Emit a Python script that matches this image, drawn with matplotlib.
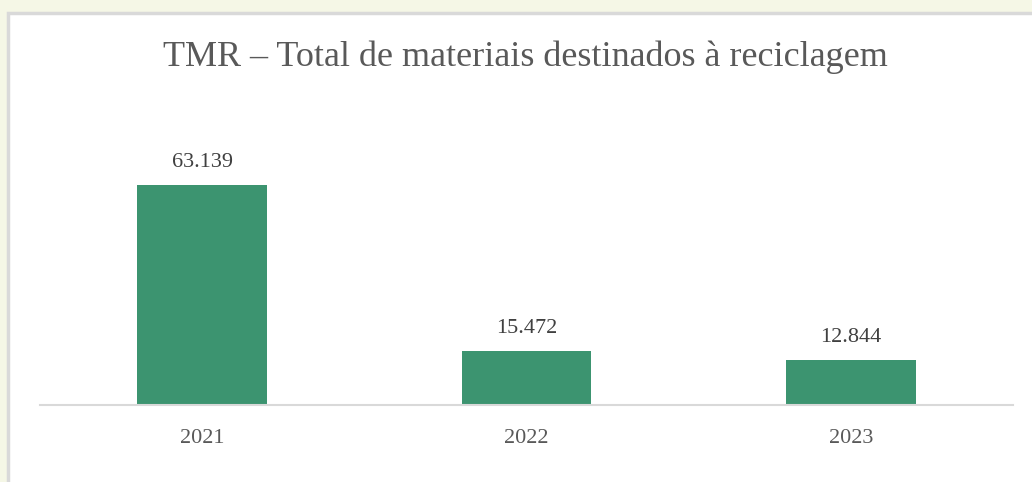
import matplotlib.pyplot as plt
from matplotlib.patches import Rectangle

anos = ["2021", "2022", "2023"]
valores = [63139, 15472, 12844]
rotulos = ["63.139", "15.472", "12.844"]

W, H = 1032, 482
fig = plt.figure(figsize=(W / 100, H / 100), dpi=100)
fig.patch.set_facecolor("#F5F7E6")

# painel branco com borda cinza
fig.patches.append(Rectangle((8 / W, -0.1), 1.1, (H - 13) / H + 0.1,
                             transform=fig.transFigure, facecolor="white",
                             edgecolor="#D9D9D9", linewidth=2.5, zorder=-1))

ax = fig.add_axes([40 / W, (H - 405) / H, 973 / W, 280 / H])
ax.set_zorder(1)
ax.set_facecolor("none")
x = list(range(len(anos)))
ax.bar(x, valores, width=0.4, color="#3C9470", zorder=2)
ax.set_xlim(-0.5, 2.5)
ax.set_ylim(0, 63139 * 280 / 220)

for xi, v, r in zip(x, valores, rotulos):
    ax.text(xi, v + 63139 * 18 / 220, r, ha="center", va="baseline",
            fontsize=16, color="#404040", family="Liberation Serif")

for s in ["top", "right", "left"]:
    ax.spines[s].set_visible(False)
ax.spines["bottom"].set_color("#D9D9D9")
ax.spines["bottom"].set_linewidth(1.5)
ax.set_yticks([])
ax.set_xticks(x)
ax.set_xticklabels(anos, fontsize=16, color="#595959", family="Liberation Serif")
ax.tick_params(axis="x", length=0, pad=17)

fig.text(525 / W, 1 - 57 / H, "TMR – Total de materiais destinados à reciclagem",
         ha="center", va="center", fontsize=26, color="#595959",
         family="Liberation Serif")

fig.savefig("out.png", dpi=100, facecolor=fig.get_facecolor())
